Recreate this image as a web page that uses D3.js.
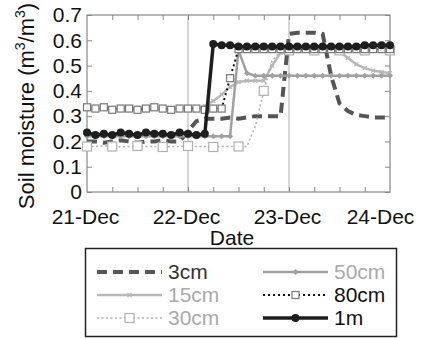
<!DOCTYPE html>
<html>
<head>
<meta charset="utf-8">
<script src="https://cdn.jsdelivr.net/npm/d3@7"></script>
<style>
  body { margin: 0; background: #fff; }
  svg { font-family: "Liberation Sans", Arial, sans-serif; }
</style>
</head>
<body>
<div id="chart"></div>
<script>
// hours since 21-Dec 00:00, one reading every 2 h
var hours = [0, 2, 4, 6, 8, 10, 12, 14, 16, 18, 20, 22, 24, 26, 28, 30, 32, 34, 36,
  38, 40, 42, 44, 46, 48, 50, 52, 54, 56, 58, 60, 62, 64, 66, 68, 70, 72];
var dayLabels = ["21-Dec", "22-Dec", "23-Dec", "24-Dec"];
var yTicks = [0, 0.1, 0.2, 0.3, 0.4, 0.5, 0.6, 0.7];

var cm3 = [0.20, 0.20, 0.195, 0.20, 0.205, 0.20, 0.195, 0.20, 0.20, 0.205, 0.20, 0.20,
  0.24, 0.28, 0.29, 0.29, 0.29, 0.295, 0.29, 0.295, 0.30, 0.30, 0.30, 0.30,
  0.625, 0.63, 0.63, 0.63, 0.625, 0.46, 0.35, 0.32, 0.305, 0.30, 0.295, 0.295, 0.295];
var cm15 = [0.33, 0.33, 0.33, 0.33, 0.33, 0.33, 0.33, 0.33, 0.33, 0.33, 0.33, 0.33, 0.33, 0.33,
  0.34, 0.36, 0.385, 0.415, 0.435, 0.44, 0.44, 0.44, 0.50, 0.55,
  0.56, 0.56, 0.56, 0.56, 0.56, 0.56, 0.555, 0.53, 0.505, 0.49, 0.48, 0.475, 0.47];
var cm30 = [0.18, 0.18, 0.182, 0.18, 0.178, 0.18, 0.182, 0.18, 0.18, 0.178, 0.18, 0.18,
  0.182, 0.18, 0.18, 0.178, 0.18, 0.18, 0.18, 0.18,
  0.26, 0.40, 0.52, 0.555,
  0.56, 0.56, 0.56, 0.56, 0.56, 0.56, 0.56, 0.56, 0.56, 0.56, 0.56, 0.56, 0.56];
var cm50 = [0.22, 0.22, 0.22, 0.22, 0.22, 0.22, 0.22, 0.22, 0.22, 0.22, 0.22, 0.22, 0.22,
  0.22, 0.22, 0.22, 0.22, 0.22, 0.56, 0.47,
  0.46, 0.46, 0.46, 0.46, 0.46, 0.46, 0.46, 0.46, 0.46, 0.46, 0.46, 0.46, 0.46, 0.46, 0.46, 0.46, 0.46];
var cm80 = [0.335, 0.33, 0.335, 0.325, 0.33, 0.33, 0.325, 0.33, 0.335, 0.33, 0.325, 0.33,
  0.33, 0.33, 0.325, 0.33, 0.33, 0.45, 0.565,
  0.565, 0.565, 0.565, 0.565, 0.565, 0.565, 0.565, 0.565, 0.565, 0.565, 0.565, 0.565,
  0.565, 0.565, 0.565, 0.565, 0.565, 0.565];
var m1 = [0.235, 0.225, 0.23, 0.225, 0.235, 0.23, 0.225, 0.235, 0.23, 0.23, 0.225, 0.235,
  0.23, 0.225, 0.23,
  0.585, 0.58, 0.58, 0.575, 0.575, 0.575, 0.575, 0.575, 0.575, 0.575, 0.575, 0.575,
  0.575, 0.575, 0.575, 0.575, 0.575, 0.575, 0.58, 0.58, 0.58, 0.58];

var series = [
  {name: "3cm",  values: cm3,  color: "#555", width: 4,   dash: "10,6", text: "#333", marker: null},
  {name: "15cm", values: cm15, color: "#b8b8b8", width: 2.5, dash: null, text: "#aaa", marker: "tick", every: 1},
  {name: "30cm", values: cm30, color: "#b0b0b0", width: 1.5, dash: "2,2.5", text: "#aaa", marker: "square", every: 3},
  {name: "50cm", values: cm50, color: "#a0a0a0", width: 2.5, dash: null, text: "#aaa", marker: "diamond", every: 1},
  {name: "80cm", values: cm80, color: "#111", width: 2,   dash: "2,3", text: "#111", marker: "square", every: 1},
  {name: "1m",   values: m1,   color: "#1e1e1e", width: 3.5, dash: null, text: "#111", marker: "circle", every: 1}
];

var svg = d3.select("#chart").append("svg").attr("width", 423).attr("height", 339);

var x = d3.scaleLinear().domain([0, 72]).range([87, 390]);
var y = d3.scaleLinear().domain([0, 0.7]).range([192, 15]);

// frame
svg.append("rect")
  .attr("x", x(0)).attr("y", y(0.7))
  .attr("width", x(72) - x(0)).attr("height", y(0) - y(0.7))
  .attr("fill", "none").attr("stroke", "#888").attr("stroke-width", 1.2);

// day grid lines
svg.selectAll(".grid").data([24, 48]).enter().append("line")
  .attr("x1", function(d) { return x(d); }).attr("x2", function(d) { return x(d); })
  .attr("y1", y(0.7)).attr("y2", y(0))
  .attr("stroke", "#bbb").attr("stroke-width", 1.2);

// minor ticks every 6 h, bottom and top
var sixH = d3.range(6, 72, 6);
var bottomAxis = svg.append("g").attr("transform", "translate(0," + y(0) + ")")
  .call(d3.axisBottom(x).tickValues(sixH).tickSize(-5).tickFormat(""));
var topAxis = svg.append("g").attr("transform", "translate(0," + y(0.7) + ")")
  .call(d3.axisTop(x).tickValues(sixH).tickSize(-5).tickFormat(""));
[bottomAxis, topAxis].forEach(function(g) {
  g.select(".domain").remove();
  g.selectAll("line").attr("stroke", "#888");
});

// day labels
var xl = svg.append("g").attr("transform", "translate(0," + y(0) + ")")
  .call(d3.axisBottom(x).tickValues([0, 24, 48, 72]).tickSize(0).tickPadding(17)
    .tickFormat(function(d, i) { return dayLabels[i]; }));
xl.select(".domain").remove();
xl.selectAll("text").attr("font-size", 21).attr("fill", "#111")
  .attr("font-family", "Liberation Sans, Arial, sans-serif")
  .attr("dx", function(d, i) { return i === 3 ? -10 : -2; });

// y axis left with inner ticks
var yl = svg.append("g").attr("transform", "translate(" + x(0) + ",0)")
  .call(d3.axisLeft(y).tickValues(yTicks).tickSize(-5).tickPadding(5)
    .tickFormat(function(d) { return d === 0 ? "0" : d3.format(".1f")(d); }));
yl.select(".domain").remove();
yl.selectAll("line").attr("stroke", "#888");
yl.selectAll("text").attr("font-size", 21).attr("fill", "#111")
  .attr("font-family", "Liberation Sans, Arial, sans-serif");

var yr = svg.append("g").attr("transform", "translate(" + x(72) + ",0)")
  .call(d3.axisRight(y).tickValues(yTicks).tickSize(-5).tickFormat(""));
yr.select(".domain").remove();
yr.selectAll("line").attr("stroke", "#888");

// series
var line = d3.line()
  .x(function(d, i) { return x(hours[i]); })
  .y(function(d) { return y(d); });

function drawMarker(g, s, px, py, size) {
  if (s.marker === "circle") {
    g.append("circle").attr("cx", px).attr("cy", py).attr("r", size || 4)
      .attr("fill", s.color);
  } else if (s.marker === "square") {
    var h = size || (s.name === "30cm" ? 4.5 : 3.5);
    g.append("rect").attr("x", px - h).attr("y", py - h)
      .attr("width", 2 * h).attr("height", 2 * h)
      .attr("fill", "#fff")
      .attr("stroke", s.name === "30cm" ? "#b0b0b0" : "#777").attr("stroke-width", 1.2);
  } else if (s.marker === "diamond") {
    var r = size || 3;
    g.append("path")
      .attr("d", "M" + px + "," + (py - r) + "L" + (px + r) + "," + py +
        "L" + px + "," + (py + r) + "L" + (px - r) + "," + py + "Z")
      .attr("fill", s.color);
  } else if (s.marker === "tick") {
    var t = size || 2;
    g.append("path")
      .attr("d", "M" + (px - t) + "," + (py - t) + "L" + (px + t) + "," + (py + t) +
        "M" + (px - t) + "," + (py + t) + "L" + (px + t) + "," + (py - t))
      .attr("stroke", s.color).attr("stroke-width", 1.2);
  }
}

series.forEach(function(s) {
  var g = svg.append("g");
  g.append("path").datum(s.values)
    .attr("d", line)
    .attr("fill", "none")
    .attr("stroke", s.color)
    .attr("stroke-width", s.width)
    .attr("stroke-dasharray", s.dash);
  if (s.marker) {
    s.values.forEach(function(v, i) {
      if (i % s.every === 0) drawMarker(g, s, x(hours[i]), y(v));
    });
  }
});

// axis titles
svg.append("text").attr("x", 232).attr("y", 245).attr("text-anchor", "middle")
  .attr("font-size", 21).attr("fill", "#111").text("Date");

var yt = svg.append("text")
  .attr("transform", "translate(34,106) rotate(-90)")
  .attr("text-anchor", "middle").attr("font-size", 22).attr("fill", "#111");
yt.append("tspan").text("Soil moisture (m");
yt.append("tspan").attr("font-size", 14).attr("dy", -9).text("3");
yt.append("tspan").attr("dy", 9).text("/m");
yt.append("tspan").attr("font-size", 14).attr("dy", -9).text("3");
yt.append("tspan").attr("dy", 9).text(")");

// legend
svg.append("rect").attr("x", 85.5).attr("y", 248.5).attr("width", 311).attr("height", 88)
  .attr("fill", "#fff").attr("stroke", "#222").attr("stroke-width", 1.5);

var legendPos = [
  {col: 0, row: 0}, {col: 0, row: 1}, {col: 0, row: 2},
  {col: 1, row: 0}, {col: 1, row: 1}, {col: 1, row: 2}
];
series.forEach(function(s, i) {
  var p = legendPos[i];
  var x0 = p.col === 0 ? 97 : 263;
  var x1 = x0 + 65;
  var ly = 272 + p.row * 23;
  var g = svg.append("g");
  g.append("line").attr("x1", x0).attr("x2", x1).attr("y1", ly).attr("y2", ly)
    .attr("stroke", s.color).attr("stroke-width", s.width)
    .attr("stroke-dasharray", s.dash);
  if (s.marker) drawMarker(g, s, (x0 + x1) / 2, ly);
  g.append("text").attr("x", x1 + 6).attr("y", ly + 7)
    .attr("font-size", 21).attr("fill", s.text).text(s.name);
});
</script>
</body>
</html>
